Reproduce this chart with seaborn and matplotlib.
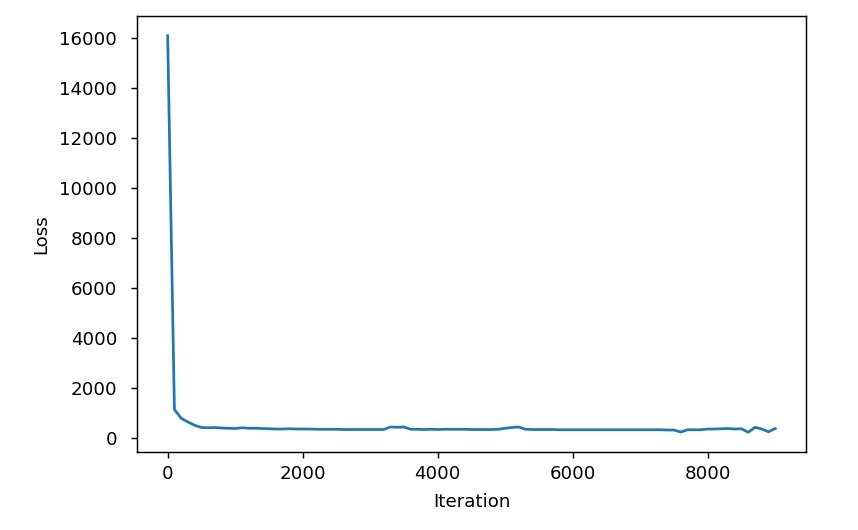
import numpy as np
import pandas as pd
import matplotlib
matplotlib.use("Agg")
import matplotlib.pyplot as plt
import seaborn as sns

# loss recorded every 100 iterations
iterations = list(range(0, 9001, 100))
loss = [
    16100, 1150, 800, 650, 520, 430, 420, 430, 410, 400,
    390, 420, 400, 400, 390, 380, 370, 370, 380, 370,
    370, 370, 360, 360, 360, 360, 350, 350, 350, 350,
    350, 350, 350, 450, 440, 450, 360, 360, 350, 360,
    350, 360, 360, 360, 360, 350, 350, 350, 350, 360,
    400, 430, 450, 360, 350, 350, 350, 350, 340, 340,
    340, 340, 340, 340, 340, 340, 340, 340, 340, 340,
    340, 340, 340, 340, 330, 330, 250, 340, 340, 340,
    370, 370, 380, 390, 370, 380, 240, 440, 370, 260,
    390,
]

df = pd.DataFrame({"Iteration": iterations, "Loss": loss})

DPI = 131
fig, ax = plt.subplots(figsize=(858 / DPI, 530 / DPI), dpi=DPI)
sns.lineplot(data=df, x="Iteration", y="Loss", ax=ax, color="#1f77b4", linewidth=1.5)
ax.set_xlabel("Iteration", labelpad=5.5)
ax.set_ylabel("Loss", labelpad=5)
ax.tick_params(axis="y", pad=7.5)

plt.subplots_adjust(left=0.16, right=0.939, top=0.970, bottom=0.147)
fig.savefig("out.png", dpi=DPI)
